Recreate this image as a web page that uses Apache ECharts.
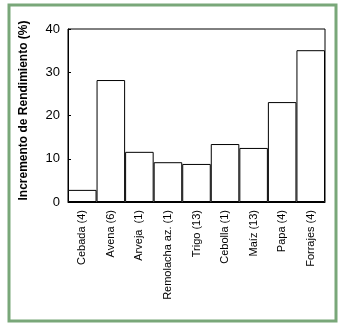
<!DOCTYPE html>
<html>
<head>
<meta charset="utf-8">
<script src="https://cdn.jsdelivr.net/npm/echarts@6/dist/echarts.min.js"></script>
<style>
  html, body { margin: 0; padding: 0; background: #fff; }
  #chart { width: 343px; height: 326px; }
</style>
</head>
<body>
<div id="chart"></div>
<script>
// Crop categories (number of trials in parentheses)
const categories = [
  'Cebada (4)', 'Avena (6)', 'Arveja  (1)', 'Remolacha az. (1)', 'Trigo (13)',
  'Cebolla (1)', 'Maíz (13)', 'Papa (4)', 'Forrajes (4)'
];
// Yield increase, percent
const yieldIncrease = [2.8, 28.2, 11.6, 9.2, 8.8, 13.4, 12.5, 23.1, 35.1];
const yTicks = { min: 0, max: 40, interval: 10 };

const chart = echarts.init(document.getElementById('chart'), null, { renderer: 'canvas' });
chart.setOption({
  animation: false,
  backgroundColor: '#ffffff',
  graphic: [{
    type: 'rect',
    shape: { x: 9, y: 5, width: 327, height: 316 },
    style: { fill: 'none', stroke: '#79a779', lineWidth: 3 },
    silent: true
  }],
  grid: {
    left: 68, right: 18, top: 29, bottom: 124,
    show: true, borderColor: '#000', borderWidth: 1, backgroundColor: 'transparent'
  },
  xAxis: {
    type: 'category',
    data: categories,
    axisLine: { lineStyle: { color: '#000', width: 1 } },
    axisTick: { show: false },
    axisLabel: {
      rotate: 90, interval: 0, margin: 8,
      fontFamily: 'Arial, "Liberation Sans", sans-serif', fontSize: 11, color: '#000'
    }
  },
  yAxis: {
    type: 'value',
    min: yTicks.min, max: yTicks.max, interval: yTicks.interval,
    name: 'Incremento de Rendimiento (%)',
    nameLocation: 'middle', nameRotate: 90, nameGap: 38,
    nameTextStyle: {
      fontFamily: 'Arial, "Liberation Sans", sans-serif', fontSize: 12,
      fontWeight: 'bold', color: '#000', padding: [0, 0, 0, 10]
    },
    axisLine: { show: true, lineStyle: { color: '#000', width: 1 } },
    axisTick: { show: true, inside: true, length: 3, lineStyle: { color: '#000' } },
    splitLine: { show: false },
    axisLabel: {
      margin: 8, fontFamily: 'Arial, "Liberation Sans", sans-serif',
      fontSize: 13, color: '#000'
    }
  },
  series: [{
    type: 'bar',
    data: yieldIncrease,
    barCategoryGap: 0,
    itemStyle: { color: '#fff', borderColor: '#000', borderWidth: 1 }
  }]
});
</script>
</body>
</html>
